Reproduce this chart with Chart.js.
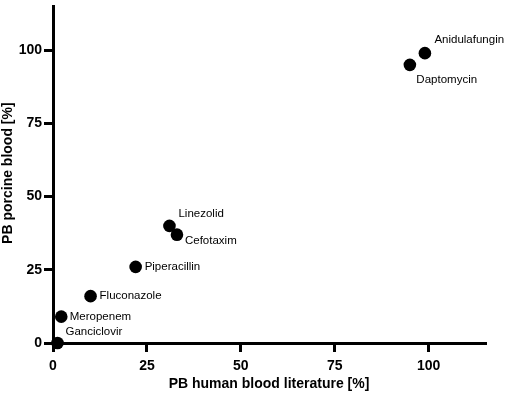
<!DOCTYPE html>
<html>
<head>
<meta charset="utf-8">
<script src="https://cdn.jsdelivr.net/npm/chart.js@4/dist/chart.umd.min.js"></script>
<style>
  html, body { margin: 0; padding: 0; background: #fff; }
  #wrap { width: 505px; height: 393px; }
</style>
</head>
<body>
<div id="wrap"><canvas id="c" width="505" height="393"></canvas></div>
<script>
// ---- data ----
const drugNames = ['Ganciclovir', 'Meropenem', 'Fluconazole', 'Piperacillin', 'Linezolid', 'Cefotaxim', 'Daptomycin', 'Anidulafungin'];
const humanBlood = [1.2, 2.2, 10, 22, 31, 33, 95, 99];
const porcineBlood = [0, 9, 16, 26, 40, 37, 95, 99];
const xTickValues = [0, 25, 50, 75, 100];
const yTickValues = [0, 25, 50, 75, 100];
const xAxisTitle = 'PB human blood literature [%]';
const yAxisTitle = 'PB porcine blood [%]';

// ---- label placement (style only) ----
const labelOffsets = {
  'Ganciclovir': [8, -11.5],
  'Meropenem': [8.5, 0],
  'Fluconazole': [9, 0],
  'Piperacillin': [9, 0],
  'Linezolid': [9, -12],
  'Cefotaxim': [8, 6.5],
  'Daptomycin': [6.5, 14.5],
  'Anidulafungin': [9.5, -13]
};

const FONT = "'Liberation Sans', Arial, Helvetica, sans-serif";

const pointLabels = {
  id: 'pointLabels',
  afterDatasetsDraw(chart) {
    const ctx = chart.ctx;
    const meta = chart.getDatasetMeta(0);
    ctx.save();
    ctx.font = '11.5px ' + FONT;
    ctx.fillStyle = '#000';
    ctx.textAlign = 'left';
    ctx.textBaseline = 'middle';
    meta.data.forEach((pt, i) => {
      const name = drugNames[i];
      const off = labelOffsets[name] || [9, 0];
      ctx.fillText(name, pt.x + off[0], pt.y + off[1]);
    });
    ctx.restore();
  }
};

const axisTitles = {
  id: 'axisTitles',
  afterDraw(chart) {
    const ctx = chart.ctx;
    const a = chart.chartArea;
    ctx.save();
    ctx.fillStyle = '#000';
    ctx.textAlign = 'center';
    ctx.textBaseline = 'alphabetic';
    ctx.font = 'bold 14px ' + FONT;
    ctx.fillText(xAxisTitle, (a.left + a.right) / 2, a.bottom + 45);
    ctx.translate(11.5, (a.top + a.bottom) / 2 - 1.5);
    ctx.rotate(-Math.PI / 2);
    ctx.fillText(yAxisTitle, 0, 0);
    ctx.restore();
  }
};

const points = humanBlood.map((x, i) => ({ x: x, y: porcineBlood[i] }));

new Chart(document.getElementById('c'), {
  type: 'scatter',
  data: {
    datasets: [{
      data: points,
      pointRadius: 6.3,
      pointHoverRadius: 6.3,
      pointBackgroundColor: '#000',
      pointBorderWidth: 0,
      borderColor: '#000',
      clip: false
    }]
  },
  options: {
    responsive: false,
    animation: false,
    devicePixelRatio: 1,
    layout: { padding: { top: 0, right: 20, bottom: 0, left: 0 } },
    plugins: { legend: { display: false }, tooltip: { enabled: false } },
    scales: {
      x: {
        type: 'linear',
        min: 0,
        max: 115,
        afterBuildTicks(scale) { scale.ticks = xTickValues.map(v => ({ value: v })); },
        afterFit(scale) { scale.height = 50; scale.paddingLeft = 0; scale.paddingRight = 0; },
        border: { display: true, color: '#000', width: 3 },
        grid: { display: true, drawOnChartArea: false, drawTicks: true, tickLength: 9, lineWidth: 3, color: '#000' },
        ticks: { color: '#000', font: { family: FONT, size: 14, weight: 'bold' }, padding: 5.5, maxRotation: 0 },
        title: { display: false }
      },
      y: {
        type: 'linear',
        min: 0,
        max: 115,
        afterBuildTicks(scale) { scale.ticks = yTickValues.map(v => ({ value: v })); },
        afterFit(scale) { scale.width = 53; scale.paddingTop = 0; scale.paddingBottom = 0; },
        border: { display: true, color: '#000', width: 3 },
        grid: { display: true, drawOnChartArea: false, drawTicks: true, tickLength: 9, lineWidth: 3, color: '#000' },
        ticks: { color: '#000', font: { family: FONT, size: 14, weight: 'bold' }, padding: 2 },
        title: { display: false }
      }
    }
  },
  plugins: [pointLabels, axisTitles]
});
</script>
</body>
</html>
